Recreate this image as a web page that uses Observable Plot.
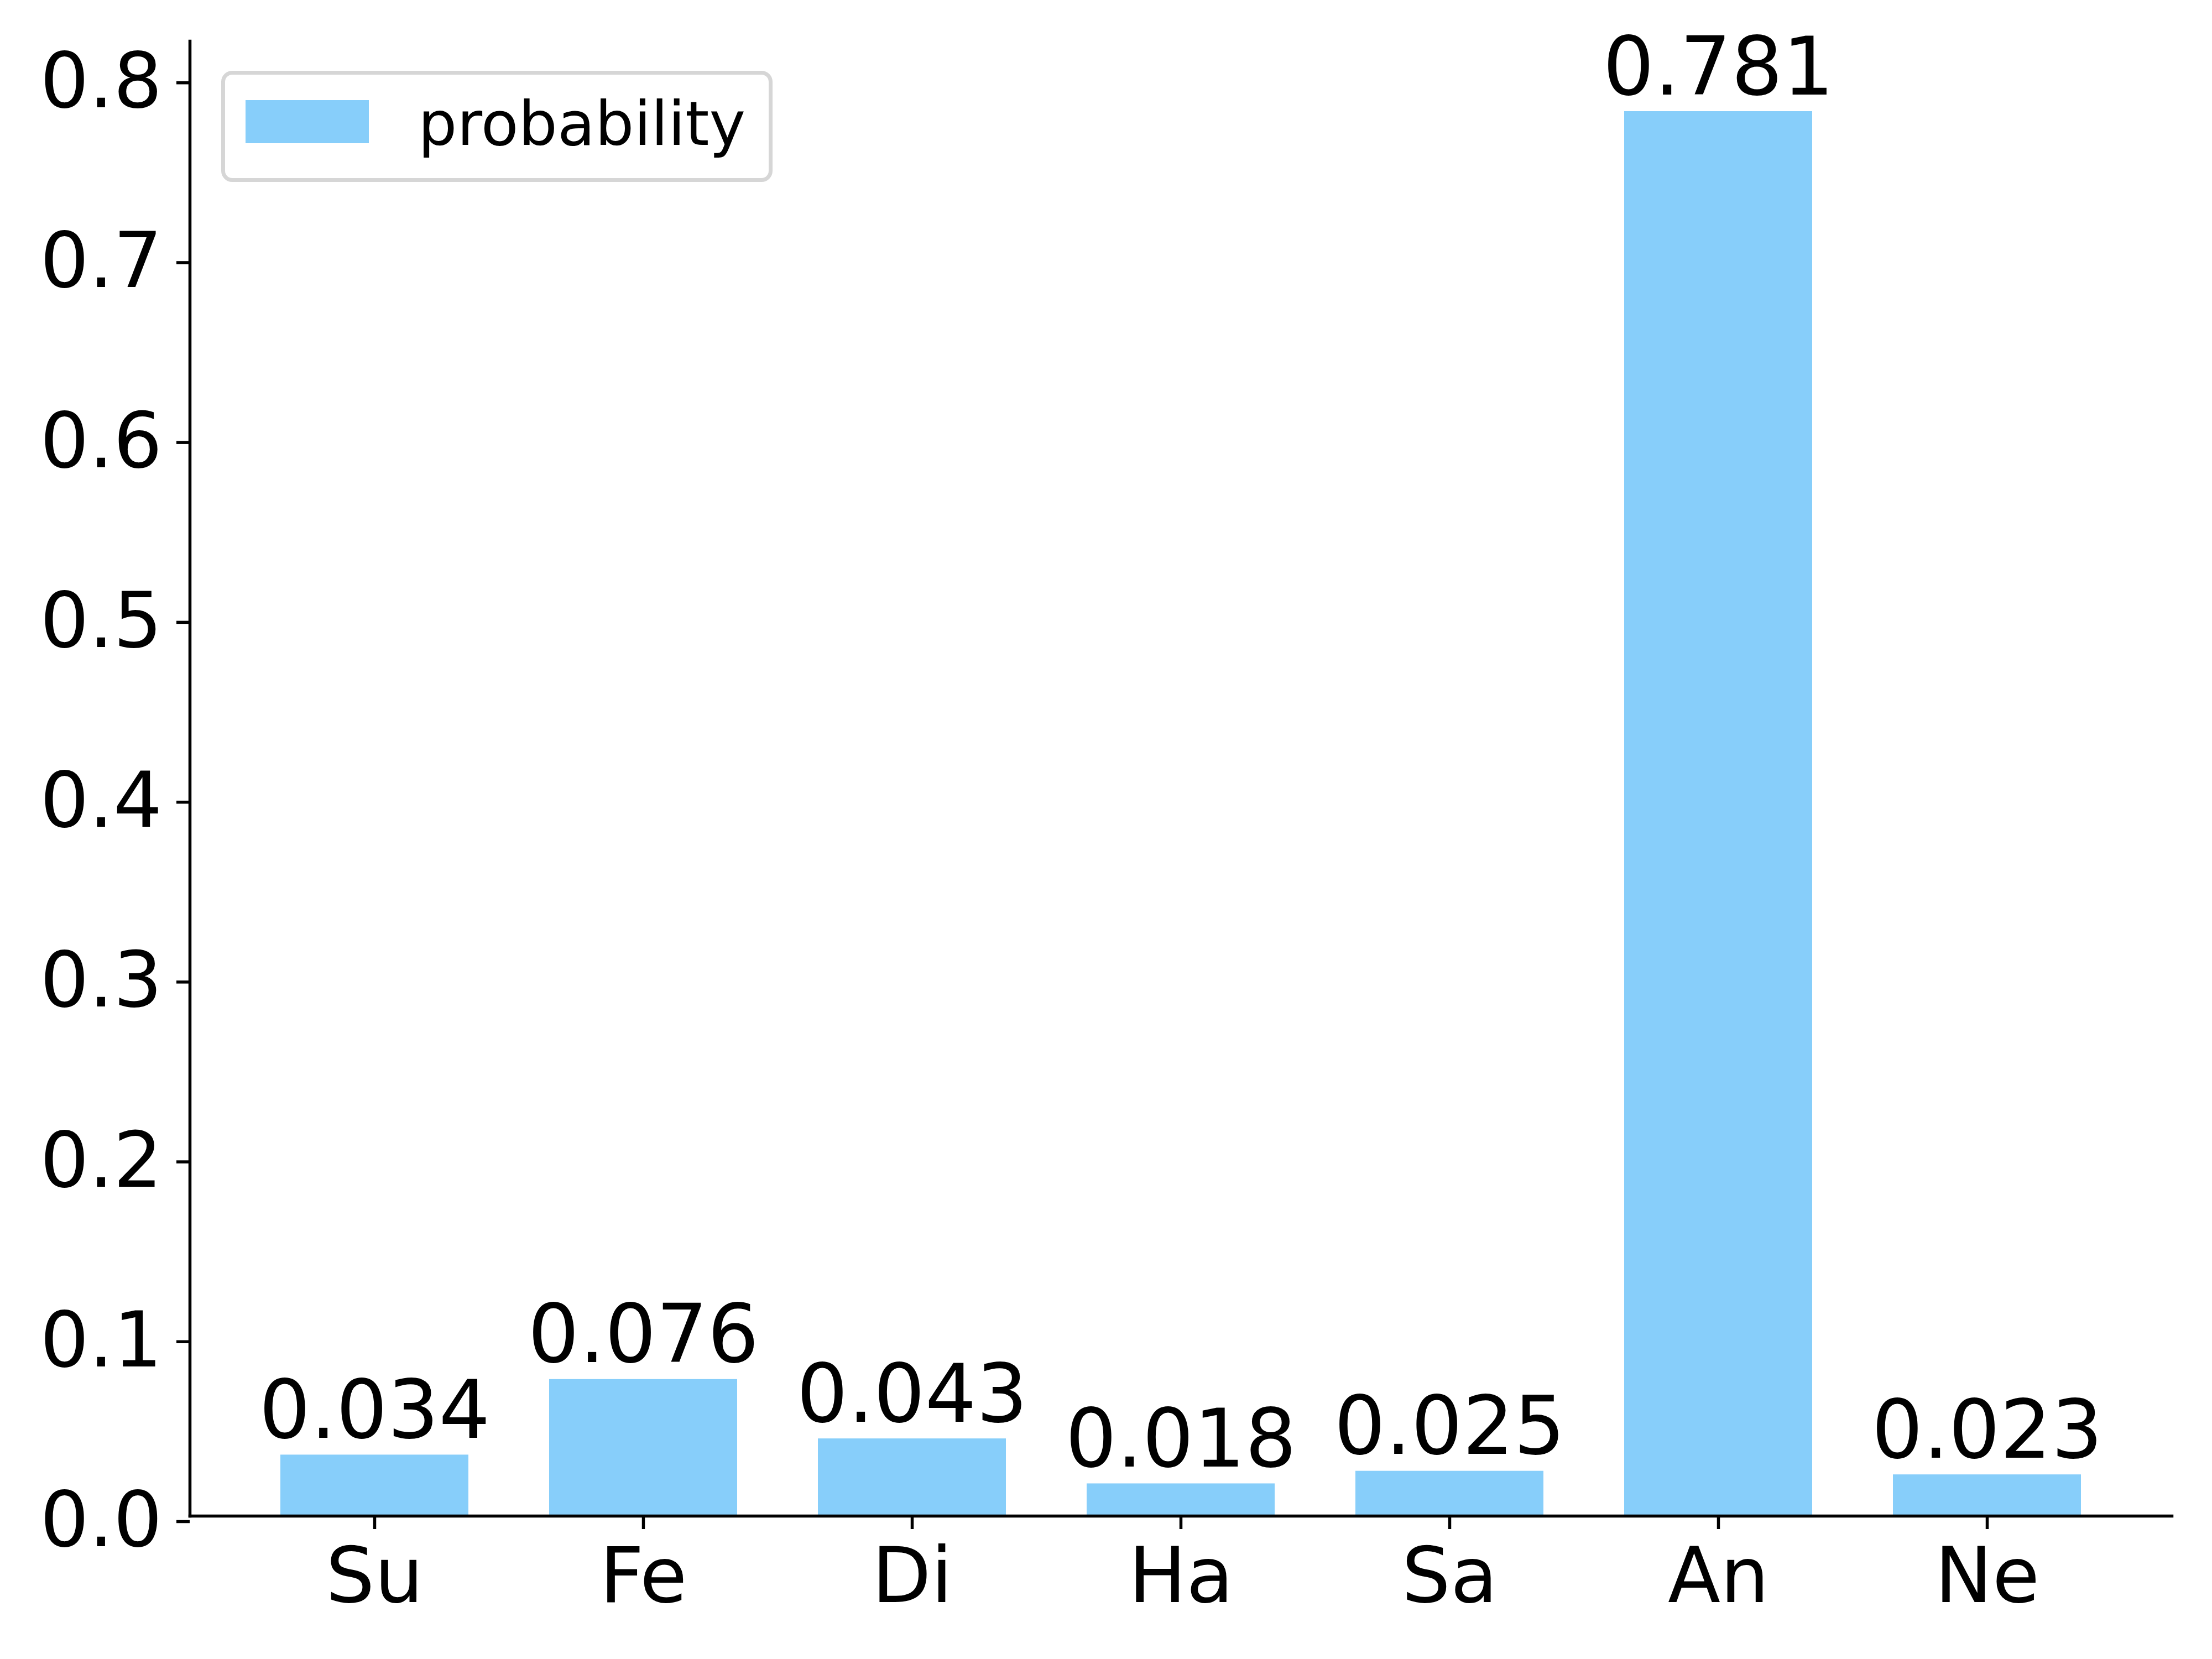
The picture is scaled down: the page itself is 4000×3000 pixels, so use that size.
<!DOCTYPE html>
<html>
<head>
<meta charset="utf-8">
<script src="https://cdn.jsdelivr.net/npm/d3@7"></script>
<script src="https://cdn.jsdelivr.net/npm/@observablehq/plot@0.6"></script>
<style>
  html, body { margin: 0; padding: 0; background: #fff; }
  #fig { position: relative; width: 4000px; height: 3000px; font-family: "DejaVu Sans", sans-serif; }
  #legend { position: absolute; left: 400px; top: 128px; width: 997px; height: 201px; box-sizing: border-box;
            border: 7px solid #d6d6d6; border-radius: 20px; background: rgba(255,255,255,0.8); }
  #legend .sw { position: absolute; left: 37px; top: 46px; width: 223px; height: 78px; background: #87CEFA; }
  #legend .lb { position: absolute; left: 349px; top: 0px; font-size: 111px; line-height: 111px; color: #000; }
</style>
</head>
<body>
<div id="fig"></div>
<script>
const categories = ["Su", "Fe", "Di", "Ha", "Sa", "An", "Ne"];
const probability = [0.034, 0.076, 0.043, 0.018, 0.025, 0.781, 0.023];
const yTicks = [0, 0.1, 0.2, 0.3, 0.4, 0.5, 0.6, 0.7, 0.8];
const seriesName = "probability";

const data = categories.map((c, i) => ({cat: c, p: probability[i]}));

const chart = Plot.plot({
  width: 4000,
  height: 3000,
  marginLeft: 343,
  marginRight: 73,
  marginTop: 74,
  marginBottom: 259,
  style: {fontFamily: "DejaVu Sans, sans-serif", fontSize: "139px", color: "#000", background: "#fff"},
  x: {domain: categories, paddingInner: 0.3, paddingOuter: 0.335, label: null},
  y: {domain: [0, 0.82005], label: null},
  marks: [
    Plot.barY(data, {x: "cat", y: "p", fill: "#87CEFA"}),
    Plot.text(data, {x: "cat", y: "p", text: d => d3.format(".3f")(d.p), lineAnchor: "bottom", dy: -31, fontSize: 146, fill: "#000"}),
    Plot.axisY({ticks: yTicks, tickFormat: d3.format(".1f"), tickSize: 24, tickPadding: 26, strokeWidth: 5.5, dy: 10, label: null}),
    Plot.axisX({tickSize: 24, tickPadding: 33, strokeWidth: 5.5, label: null}),
    Plot.frame({anchor: "left", strokeWidth: 5.5, stroke: "#000"}),
    Plot.frame({anchor: "bottom", strokeWidth: 5.5, stroke: "#000"})
  ]
});
const fig = document.getElementById("fig");
fig.appendChild(chart);
const legend = document.createElement("div");
legend.id = "legend";
legend.innerHTML = `<div class="sw"></div><div class="lb"></div>`;
legend.querySelector(".lb").textContent = seriesName;
fig.appendChild(legend);
const lb = legend.querySelector(".lb");
lb.style.top = (259 - 135 - 111 * 0.82) + "px";
</script>
</body>
</html>
